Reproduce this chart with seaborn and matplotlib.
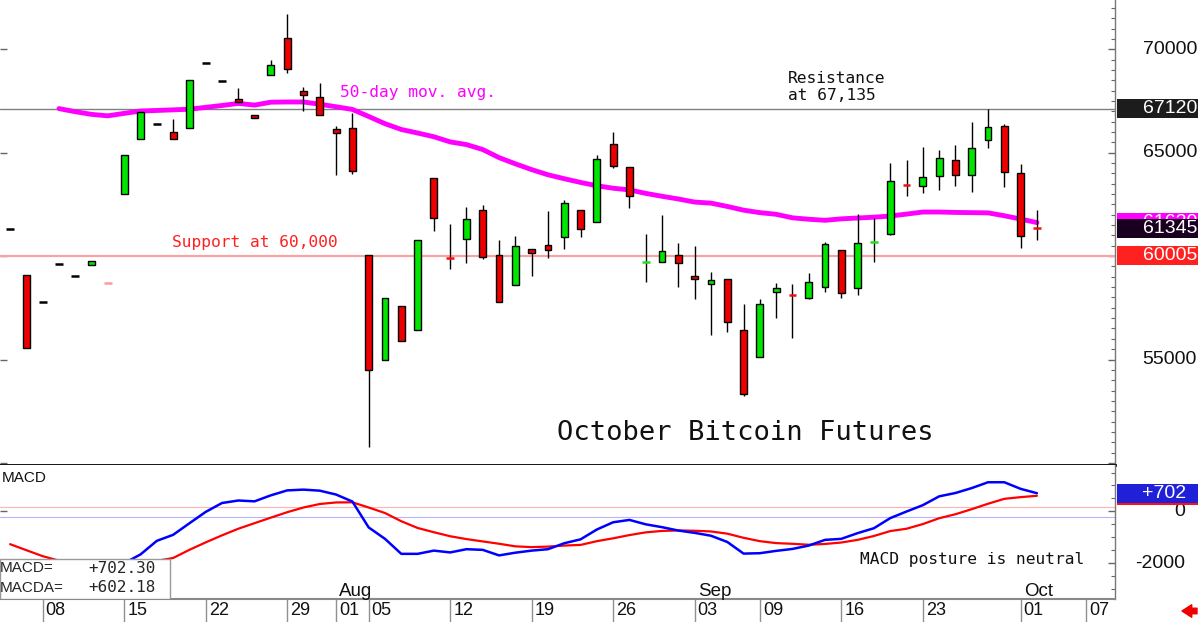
import matplotlib
matplotlib.use("Agg")
import matplotlib.pyplot as plt
import matplotlib.transforms as mtransforms
from matplotlib.patches import Rectangle, FancyArrowPatch
from matplotlib.ticker import MultipleLocator
import numpy as np
import seaborn as sns

# trading days on the axis (CME sessions, Labor Day closed)
days = ["07-04", "07-05", "07-08", "07-09", "07-10", "07-11", "07-12", "07-15", "07-16", "07-17",
        "07-18", "07-19", "07-22", "07-23", "07-24", "07-25", "07-26", "07-29", "07-30", "07-31",
        "08-01", "08-02", "08-05", "08-06", "08-07", "08-08", "08-09", "08-12", "08-13", "08-14",
        "08-15", "08-16", "08-19", "08-20", "08-21", "08-22", "08-23", "08-26", "08-27", "08-28",
        "08-29", "08-30", "09-03", "09-04", "09-05", "09-06", "09-09", "09-10", "09-11", "09-12",
        "09-13", "09-16", "09-17", "09-18", "09-19", "09-20", "09-23", "09-24", "09-25", "09-26",
        "09-27", "09-30", "10-01", "10-02", "10-03", "10-04", "10-07"]

opens = [61320, 59065, 57790, 59630, 59030, 59565, 58680, 63015, 65675, 66405,
         66015, 66210, 69340, 68450, 67580, 66805, 68760, 70530, 67970, 67695,
         66160, 66210, 60050, 55000, 57580, 56405, 63760, 59930, 60805, 62210,
         60050, 58580, 60355, 60515, 60920, 62240, 61660, 65435, 64305, 59685,
         59710, 60050, 59030, 58660, 58905, 56450, 55115, 58275, 58140, 57985,
         58515, 60290, 58470, 60670, 61080, 63445, 63385, 63870, 64630, 63905,
         65595, 66290, 64030, 61355]
highs = [61320, 59065, 57790, 59630, 59030, 59775, 58680, 64870, 66985, 66405,
         66615, 68500, 69340, 68450, 68145, 66805, 69485, 71695, 68195, 68385,
         66290, 66935, 60050, 57985, 57580, 60760, 63760, 61565, 62385, 62470,
         60775, 60970, 60355, 62160, 62695, 62240, 64870, 66015, 64305, 61050,
         61970, 60645, 60470, 59240, 58905, 57660, 57905, 58675, 58630, 59195,
         60675, 60290, 62015, 61855, 64485, 64645, 65290, 65115, 65370, 66485,
         67130, 66405, 64435, 62225]
lows = [61320, 55565, 57790, 59630, 59030, 59565, 58680, 63015, 65675, 66405,
        65645, 66210, 69340, 68450, 67450, 66675, 68760, 68840, 67015, 66840,
        63905, 63950, 50760, 55000, 55885, 56405, 61210, 59355, 59675, 59840,
        57790, 58580, 59030, 59920, 60355, 60935, 61660, 64275, 62340, 58740,
        59710, 58515, 57935, 56175, 56340, 53225, 55115, 57015, 56050, 57905,
        58260, 57985, 58095, 59710, 61000, 62905, 63065, 63175, 63385, 63095,
        65210, 63340, 60405, 60775]
closes = [61320, 55565, 57790, 59630, 59030, 59775, 58680, 64870, 66985, 66405,
          65645, 68500, 69340, 68450, 67450, 66675, 69225, 69065, 67775, 66840,
          65970, 64095, 54515, 57985, 55885, 60760, 61855, 59910, 61775, 59970,
          57790, 60470, 60130, 60290, 62580, 61325, 64710, 64355, 62920, 59705,
          60260, 59645, 58905, 58825, 56805, 53355, 57695, 58435, 58120, 58760,
          60565, 58195, 60645, 60690, 63630, 63425, 63840, 64725, 63920, 65210,
          66260, 64065, 60970, 61345]
pale = ["07-12"]

# 50-day moving average, from 07-09 on
ma_start = "07-09"
ma50 = [67130, 66980, 66850, 66780, 66900, 67010, 67040, 67070, 67100, 67190,
        67280, 67380, 67300, 67440, 67450, 67450, 67340, 67220, 67090, 66750,
        66400, 66120, 65950, 65770, 65520, 65390, 65150, 64760, 64460, 64180,
        63930, 63740, 63560, 63400, 63280, 63200, 63030, 62890, 62760, 62610,
        62560, 62400, 62220, 62100, 62020, 61850, 61780, 61730, 61800, 61840,
        61880, 61935, 62030, 62130, 62130, 62110, 62100, 62090, 61950, 61790, 61620]

macd = [-2300, -2500, -2600, -2650, -2600, -2450, -2250, -2000, -1663, -1138,
        -906, -460, -20, 323, 420, 388, 620, 810, 840, 800,
        650, 380, -620, -1060, -1640, -1640, -1515, -1585, -1460, -1486,
        -1700, -1595, -1515, -1460, -1230, -1080, -700, -420, -330, -500,
        -610, -740, -830, -940, -1180, -1630, -1615, -1525, -1450, -1320,
        -1100, -1060, -840, -650, -260, -5, 240, 580, 710, 900,
        1125, 1125, 870, 702]
macda = [-1266, -1499, -1730, -1900, -1980, -2030, -2050, -2030, -1990, -1910,
         -1800, -1485, -1197, -925, -670, -455, -241, -32, 150, 285,
         345, 350, 150, -63, -380, -640, -805, -960, -1070, -1160,
         -1250, -1350, -1380, -1360, -1320, -1295, -1150, -1040, -915, -810,
         -755, -736, -748, -775, -860, -1020, -1150, -1225, -1252, -1288,
         -1258, -1202, -1100, -950, -760, -670, -490, -265, -110, 85,
         295, 485, 550, 602]
macd_last = "+702.30"
macda_last = "+602.18"

tick_days = ["07-08", "07-15", "07-22", "07-29", "08-01", "08-05", "08-12", "08-19",
             "08-26", "09-03", "09-09", "09-16", "09-23", "10-01", "10-07"]
tick_labels = ["08", "15", "22", "29", "01", "05", "12", "19", "26", "03", "09", "16", "23", "01", "07"]
month_days = ["08-01", "09-03", "10-01"]
month_labels = ["Aug", "Sep", "Oct"]

resistance = 67120
support = 60005

sns.set_theme(style="white")
plt.rcParams["font.family"] = ["Liberation Sans", "DejaVu Sans"]
MONO = "DejaVu Sans Mono"
GREEN, RED = "#00e600", "#ee0000"

o, h, l, c = (np.array(v, dtype=float) for v in (opens, highs, lows, closes))
x = np.arange(len(opens))

fig = plt.figure(figsize=(12, 6.22), dpi=100, facecolor="white")
ax = fig.add_axes([0, 157 / 622, 1115 / 1200, 465 / 622])
axm = fig.add_axes([0, 23.5 / 622, 1115 / 1200, 133.5 / 622])
for a in (ax, axm):
    a.set_xlim(-0.62, 67.79)
    a.set_facecolor("white")
    a.grid(False)
    for s in a.spines.values():
        s.set_visible(False)
    a.tick_params(axis="x", which="both", bottom=False, labelbottom=False)
ax.set_ylim(49900, 72380)
axm.set_ylim(-3364, 1791)

# price panel
ax.axhline(resistance, color="#808080", lw=1, zorder=1)
ax.axhline(support, color="#ffa0a0", lw=1.5, zorder=1)
i0 = days.index(ma_start)
sns.lineplot(x=x[i0:i0 + len(ma50)], y=ma50, ax=ax, color="#ff00ff", linewidth=3.5, zorder=2)

ax.vlines(x, l, h, color="black", lw=1, zorder=3)
doji = np.abs(c - o) <= 30
body_col = np.where(c > o, GREEN, RED)
ax.bar(x[~doji], (c - o)[~doji], bottom=o[~doji], width=0.42, color=body_col[~doji],
       edgecolor="black", linewidth=1, zorder=4)
for i in np.where(doji)[0]:
    if days[i] in pale:
        col = "#ff9a9a"
    elif c[i] > o[i]:
        col = "#22dd22"
    elif c[i] < o[i]:
        col = "#ee1111"
    else:
        col = "black"
    ax.hlines((o[i] + c[i]) / 2, x[i] - 0.24, x[i] + 0.24, color=col, lw=1.8, zorder=4)

ax.spines["bottom"].set_visible(True)
ax.spines["bottom"].set_color("black")
ax.spines["bottom"].set_linewidth(2)
ax.spines["right"].set_visible(True)
ax.spines["right"].set_color("#777777")
ax.spines["right"].set_linewidth(1)
ax.yaxis.set_major_locator(MultipleLocator(5000))
ax.yaxis.set_minor_locator(MultipleLocator(500))
ax.tick_params(axis="y", which="both", direction="in", left=True, right=True,
               labelleft=False, labelright=False, color="#666666")
ax.tick_params(axis="y", which="major", length=5, width=1)
ax.tick_params(axis="y", which="minor", length=3, width=0.8, left=False)
ax.set_xlabel("")
ax.set_ylabel("")

rtrans = mtransforms.blended_transform_factory(ax.transAxes, ax.transData)
for v in [55000, 65000, 70000]:
    ax.text(1197 / 1115, v, str(v), transform=rtrans, ha="right", va="center",
            fontsize=14, color="#111111", clip_on=False)
for v, txt, fc, z in [(resistance, "67120", "#1c1c1c", 5), (61620, "61620", "#ff00ff", 5),
                      (61345, "61345", "#1a0020", 6), (support, "60005", "#ff2020", 5)]:
    ax.add_patch(Rectangle((1117 / 1115, v - 460), 0.0726, 920, transform=rtrans,
                           facecolor=fc, edgecolor="none", clip_on=False, zorder=z))
    ax.text(1197 / 1115, v, txt, transform=rtrans, ha="right", va="center", fontsize=14,
            color="white", clip_on=False, zorder=z)

ax.text(0.305, 0.802, "50-day mov. avg.", transform=ax.transAxes, family=MONO,
        fontsize=11.7, color="#ff00ff", va="center")
ax.text(0.154, 0.478, "Support at 60,000", transform=ax.transAxes, family=MONO,
        fontsize=11.7, color="#ff2020", va="center")
ax.text(0.7067, 0.813, "Resistance\nat 67,135", transform=ax.transAxes, family=MONO,
        fontsize=11.7, color="#111111", va="center", linespacing=1.1)
ax.text(0.4996, 0.068, "October Bitcoin Futures", transform=ax.transAxes, family=MONO,
        fontsize=19.5, color="#111111", va="center")

# MACD panel
axm.axhline(170, color="#ffb4b4", lw=0.8, zorder=1)
axm.axhline(-230, color="#b4b4ff", lw=0.8, zorder=1)
sns.lineplot(x=x, y=macda, ax=axm, color="#ff0000", linewidth=1.6, zorder=2)
sns.lineplot(x=x, y=macd, ax=axm, color="#0000ff", linewidth=1.8, zorder=3)
axm.set_xlabel("")
axm.set_ylabel("")
axm.spines["right"].set_visible(True)
axm.spines["right"].set_color("#777777")
axm.spines["right"].set_linewidth(1)
axm.spines["bottom"].set_visible(True)
axm.spines["bottom"].set_color("#888888")
axm.spines["bottom"].set_linewidth(1.5)
axm.yaxis.set_major_locator(MultipleLocator(2000))
axm.yaxis.set_minor_locator(MultipleLocator(500))
axm.tick_params(axis="y", which="both", direction="in", left=True, right=True,
                labelleft=False, labelright=False, color="#666666")
axm.tick_params(axis="y", which="major", length=5, width=1)
axm.tick_params(axis="y", which="minor", length=3, width=0.8, left=False)

mtrans = mtransforms.blended_transform_factory(axm.transAxes, axm.transData)
for v, txt in [(0, "0"), (-2000, "-2000")]:
    axm.text(1185 / 1115, v, txt, transform=mtrans, ha="right", va="center",
             fontsize=14, color="#111111", clip_on=False)
for v, fc, z in [(macda[-1], "#ff1010", 5), (macd[-1], "#2020d8", 6)]:
    axm.add_patch(Rectangle((1117 / 1115, v - 368), 0.0726, 736, transform=mtrans,
                            facecolor=fc, edgecolor="none", clip_on=False, zorder=z))
axm.text(1186 / 1115, macd[-1], f"+{macd[-1]:.0f}", transform=mtrans, ha="right", va="center",
         fontsize=14, color="white", clip_on=False, zorder=7)

axm.text(0.002, 0.906, "MACD", transform=axm.transAxes, fontsize=11, color="#111111", va="center")
axm.text(0.771, 0.292, "MACD posture is neutral", transform=axm.transAxes, family=MONO,
         fontsize=11.7, color="#111111", va="center")
axm.add_patch(Rectangle((0, 0), 170 / 1115, 0.297, transform=axm.transAxes, facecolor="white",
                        edgecolor="#999999", lw=1, zorder=8))
axm.text(0.0, 0.227, "MACD=", transform=axm.transAxes, fontsize=11, va="center", zorder=9)
axm.text(156 / 1115, 0.227, macd_last, transform=axm.transAxes, family=MONO, fontsize=11.5,
         ha="right", va="center", zorder=9)
axm.text(0.0, 0.081, "MACDA=", transform=axm.transAxes, fontsize=11, va="center", zorder=9)
axm.text(156 / 1115, 0.081, macda_last, transform=axm.transAxes, family=MONO, fontsize=11.5,
         ha="right", va="center", zorder=9)

# date row under the MACD panel
dtrans = mtransforms.blended_transform_factory(axm.transData, axm.transAxes)
lab_trans = mtransforms.offset_copy(dtrans, fig=fig, x=3, units="dots")
for d, lab in zip(tick_days, tick_labels):
    xi = days.index(d)
    axm.plot([xi, xi], [0, -0.2], transform=dtrans, color="#909090", lw=1, clip_on=False)
    axm.text(xi, -0.088, lab, transform=lab_trans, fontsize=13, va="center", ha="left",
             color="#111111", clip_on=False)
for d, lab in zip(month_days, month_labels):
    axm.text(days.index(d), 0.02, lab, transform=lab_trans, fontsize=13.5, va="baseline",
             ha="left", color="#111111")

fig.patches.append(FancyArrowPatch(
    (1197, 11), (1182, 11), transform=None, shrinkA=0, shrinkB=0,
    arrowstyle="simple,head_length=0.7,head_width=0.9,tail_width=0.4",
    mutation_scale=10, color="#ee0000", figure=fig))

fig.savefig("out.png", dpi=100, facecolor="white")
